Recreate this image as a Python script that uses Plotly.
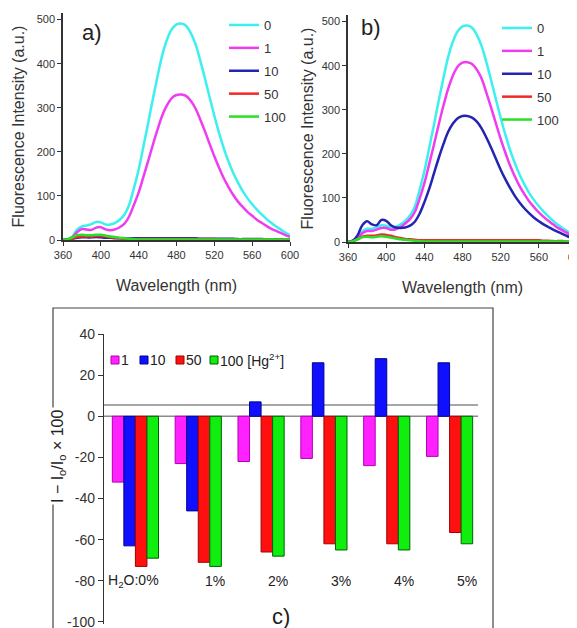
import plotly.graph_objects as go

# ---------------- data ----------------
wavelength = [360, 365, 370, 375, 380, 385, 390, 395, 400, 405, 410, 415, 420, 425, 430,
              435, 440, 445, 450, 455, 460, 465, 470, 475, 480, 485, 490, 495, 500, 505,
              510, 515, 520, 525, 530, 535, 540, 545, 550, 555, 560, 565, 570, 575, 580,
              585, 590, 595, 600]

conc_labels = ["0", "1", "10", "50", "100"]

# panel a)
a_0 = [0, 2, 8, 24, 31, 33, 36, 41, 40, 35, 35, 39, 46, 58, 80, 118, 160, 212, 265, 320,
       372, 420, 455, 478, 489, 491, 486, 470, 445, 408, 367, 324, 282, 243, 208, 178, 152,
       130, 111, 95, 81, 69, 58, 48, 39, 31, 24, 17, 11]
a_1 = [0, 1, 6, 18, 25, 24, 23, 28, 29, 24, 22, 24, 29, 37, 54, 80, 108, 143, 179, 216,
       251, 283, 306, 322, 329, 330, 327, 316, 299, 274, 247, 218, 190, 164, 140, 120, 102,
       87, 75, 64, 55, 46, 39, 32, 26, 21, 16, 11, 7]
a_10 = [0, 1, 3, 5, 6, 6, 6, 7, 6, 5, 5, 4, 4, 4, 4, 4, 4, 4, 4, 4, 4, 4, 4, 4, 4, 4, 4,
        4, 4, 3, 3, 3, 3, 3, 3, 3, 3, 2, 2, 2, 2, 2, 2, 1, 1, 1, 1, 1, 1]
a_50 = [0, 1, 3, 7, 8, 8, 8, 9, 9, 8, 6, 5, 4, 3, 3, 2, 2, 2, 2, 2, 2, 2, 2, 2, 2, 2, 2,
        2, 2, 2, 2, 2, 2, 1, 1, 1, 1, 1, 1, 1, 1, 1, 1, 1, 1, 1, 1, 1, 1]
a_100 = [0, 2, 6, 11, 12, 11, 11, 12, 12, 10, 8, 7, 5, 4, 3, 2, 1, 1, 1, 1, 1, 1, 1, 1,
         1, 1, 1, 1, 1, 1, 1, 1, 1, 1, 1, 1, 1, 1, 1, 1, 1, 1, 1, 1, 1, 1, 1, 1, 1]

# panel b)
b_0 = [0, 3, 10, 24, 30, 30, 33, 38, 37, 33, 34, 40, 48, 60, 80, 118, 160, 212, 265, 320,
       372, 420, 455, 478, 489, 491, 486, 470, 445, 408, 367, 324, 282, 243, 208, 178, 152,
       130, 111, 95, 81, 69, 58, 48, 39, 31, 24, 17, 11]
b_1 = [0, 2, 8, 20, 25, 25, 28, 32, 32, 28, 29, 34, 42, 52, 68, 98, 133, 176, 220, 266,
       309, 348, 378, 398, 407, 408, 404, 391, 371, 339, 305, 269, 234, 202, 173, 148, 126,
       108, 92, 79, 67, 57, 48, 40, 32, 26, 20, 14, 9]
b_10 = [0, 3, 15, 38, 47, 40, 38, 50, 48, 38, 33, 32, 33, 37, 46, 64, 90, 120, 155, 190,
        222, 250, 269, 281, 286, 286, 282, 273, 258, 237, 214, 189, 164, 142, 122, 104, 89,
        76, 65, 55, 47, 40, 34, 28, 23, 18, 13, 9, 6]
b_50 = [0, 2, 6, 12, 14, 14, 15, 17, 16, 14, 11, 9, 7, 6, 5, 4, 4, 4, 4, 4, 4, 4, 4, 4, 4,
        4, 4, 4, 4, 4, 4, 4, 4, 4, 4, 4, 4, 4, 4, 4, 4, 3, 3, 2, 2, 2, 1, 1, 1]
b_100 = [0, 2, 6, 11, 12, 11, 12, 13, 12, 10, 8, 6, 5, 4, 3, 2, 1, 1, 1, 1, 1, 1, 1, 1, 1,
         1, 1, 1, 1, 1, 1, 1, 1, 1, 1, 1, 1, 1, 1, 1, 1, 1, 1, 1, 1, 1, 1, 1, 1]

spec_ticks_x = [360, 400, 440, 480, 520, 560, 600]
spec_ticks_y = [0, 100, 200, 300, 400, 500]

# panel c)
water = ["0%", "1%", "2%", "3%", "4%", "5%"]
water_labels = ["H<sub>2</sub>O:0%", "1%", "2%", "3%", "4%", "5%"]
hg_labels = ["1", "10", "50", "100 [Hg<sup>2+</sup>]"]
c_1 = [-32, -23, -22, -20.5, -24, -19.5]
c_10 = [-63, -46, 7, 26, 28, 26]
c_50 = [-73, -71, -66, -62, -62, -56.5]
c_100 = [-69, -73, -68, -65, -65, -62]
c_ticks = [40, 20, 0, -20, -40, -60, -80, -100]
c_ticktext = ["40", "20", "0", "-20", "-40", "-60", "-80", "-100"]
ref_lines = [0, 5.5]

# ---------------- styling ----------------
# the page body has an 8 px margin, so the figure is 8 px smaller than the window
OFF = 8
W, H = 577 - OFF, 628 - OFF
FONT = "Arial, Liberation Sans, sans-serif"
line_colors = ["#3CF0F0", "#F03CF0", "#2424B4", "#F02828", "#28E028"]
bar_colors = ["#FF22FF", "#1010FF", "#FF1010", "#10EE10"]
bar_edges = ["#B000B0", "#000090", "#A00000", "#006000"]
TXT = "#333333"


def px(xp):
    return (xp - OFF) / W


def py(yp):
    return 1 - (yp - OFF) / H


fig = go.Figure()

for i, (ya, yb) in enumerate(zip([a_0, a_1, a_10, a_50, a_100],
                                  [b_0, b_1, b_10, b_50, b_100])):
    fig.add_trace(go.Scatter(x=wavelength, y=ya, mode="lines", name=conc_labels[i],
                             line=dict(color=line_colors[i], width=2.5, shape="spline"),
                             legendgroup="a" + conc_labels[i],
                             xaxis="x", yaxis="y", legend="legend"))
    fig.add_trace(go.Scatter(x=wavelength, y=yb, mode="lines", name=conc_labels[i],
                             line=dict(color=line_colors[i], width=2.5, shape="spline"),
                             legendgroup="b" + conc_labels[i],
                             xaxis="x2", yaxis="y2", legend="legend2"))

for i, vals in enumerate([c_1, c_10, c_50, c_100]):
    fig.add_trace(go.Bar(x=water, y=vals, name=hg_labels[i], showlegend=False,
                         marker=dict(color=bar_colors[i],
                                     line=dict(color=bar_edges[i], width=1)),
                         xaxis="x3", yaxis="y3"))

spec_axis = dict(showline=True, linecolor="#333333", linewidth=1.5, ticks="outside",
                 ticklen=4, tickcolor="#333333", showgrid=False, zeroline=False,
                 automargin=False, ticklabeloverflow="allow",
                 tickfont=dict(size=11, color=TXT, family=FONT))

leg_common = dict(xanchor="left", yanchor="top", bgcolor="rgba(0,0,0,0)",
                  font=dict(size=13, color=TXT), itemwidth=30, tracegroupgap=3,
                  traceorder="grouped")

fig.update_layout(
    width=W, height=H, margin=dict(l=0, r=0, t=0, b=0, autoexpand=False),
    paper_bgcolor="white", plot_bgcolor="white",
    font=dict(family=FONT, color=TXT),
    barmode="group", bargap=0.265, bargroupgap=0,
    xaxis=dict(spec_axis, domain=[px(63), px(290)], range=[360, 600], anchor="y",
               tickvals=spec_ticks_x,
               title=dict(text="Wavelength (nm)", font=dict(size=16), standoff=20)),
    yaxis=dict(spec_axis, domain=[py(240), py(13)], range=[0, 515], anchor="x",
               tickvals=spec_ticks_y,
               title=dict(text="Fluorescence Intensity (a.u.)", font=dict(size=16), standoff=8)),
    xaxis2=dict(spec_axis, domain=[px(348), px(577)], range=[360, 600], anchor="y2",
                tickvals=spec_ticks_x,
                title=dict(text="Wavelength (nm)", font=dict(size=16), standoff=20)),
    yaxis2=dict(spec_axis, domain=[py(242), py(15)], range=[0, 515], anchor="x2",
                tickvals=spec_ticks_y,
                title=dict(text="Fluorescence Intensity (a.u.)", font=dict(size=16), standoff=4)),
    xaxis3=dict(domain=[px(104), px(481)], range=[-0.5, 5.5], anchor="y3", automargin=False,
                showline=False, showticklabels=False, ticks="", showgrid=False, zeroline=False),
    yaxis3=dict(domain=[py(624), py(334)], range=[-101, 40], anchor="x3", automargin=False,
                showline=True, linecolor="#333333", linewidth=1.2, ticks="outside",
                ticklen=5, tickcolor="#333333", showgrid=False, zeroline=False,
                tickvals=c_ticks, ticktext=c_ticktext, ticklabeloverflow="allow",
                tickfont=dict(size=14, color=TXT)),
    legend=dict(leg_common, x=px(224), y=py(10)),
    legend2=dict(leg_common, x=px(497), y=py(13)),
)

shapes = [
    # frame around panel c
    dict(type="rect", xref="paper", yref="paper", x0=px(53), x1=px(493), y0=-0.05, y1=py(308),
         line=dict(color="#444444", width=1.2), fillcolor="rgba(0,0,0,0)", layer="below"),
]
for v in ref_lines:
    shapes.append(dict(type="line", xref="paper", yref="y3", x0=px(104), x1=px(478), y0=v, y1=v,
                       line=dict(color="#8a8a8a", width=1.5), layer="below"))

annotations = [
    dict(text="a)", x=px(80), y=py(33), xref="paper", yref="paper", xanchor="left",
         yanchor="middle", showarrow=False, font=dict(size=22, color="#222222")),
    dict(text="b)", x=px(359), y=py(28), xref="paper", yref="paper", xanchor="left",
         yanchor="middle", showarrow=False, font=dict(size=22, color="#222222")),
    dict(text="c)", x=px(281), y=py(616), xref="paper", yref="paper", xanchor="center",
         yanchor="middle", showarrow=False, font=dict(size=22, color="#222222")),
    dict(text="I − I<sub>o</sub>/I<sub>o</sub> × 100", x=px(58), y=py(456), xref="paper",
         yref="paper", xanchor="center", yanchor="middle", textangle=-90, showarrow=False,
         bgcolor="white", font=dict(size=16, color="#222222")),
]
for i, lab in enumerate(water_labels):
    if i == 0:
        annotations.append(dict(text=lab, x=i + 0.40, y=-80, xref="x3", yref="y3",
                                xanchor="right", yanchor="middle", showarrow=False,
                                font=dict(size=14, color="#222222")))
    else:
        annotations.append(dict(text=lab, x=i + 0.27, y=-80, xref="x3", yref="y3",
                                xanchor="center", yanchor="middle", showarrow=False,
                                font=dict(size=14, color="#222222")))

# legend of panel c (compact key: small square + label)
key_sq_x = [115, 144, 180, 214]
key_y = 360
for i, lab in enumerate(hg_labels):
    cx = key_sq_x[i]
    shapes.append(dict(type="rect", xref="paper", yref="paper",
                       x0=px(cx - 4), x1=px(cx + 4), y0=py(key_y + 4), y1=py(key_y - 4),
                       fillcolor=bar_colors[i], line=dict(color=bar_edges[i], width=1)))
    annotations.append(dict(text=lab, x=px(cx + 4), y=py(key_y), xref="paper", yref="paper",
                            xanchor="left", yanchor="middle", showarrow=False,
                            font=dict(size=14, color="#222222")))

fig.update_layout(shapes=shapes, annotations=annotations)

fig.write_html("out.html")
